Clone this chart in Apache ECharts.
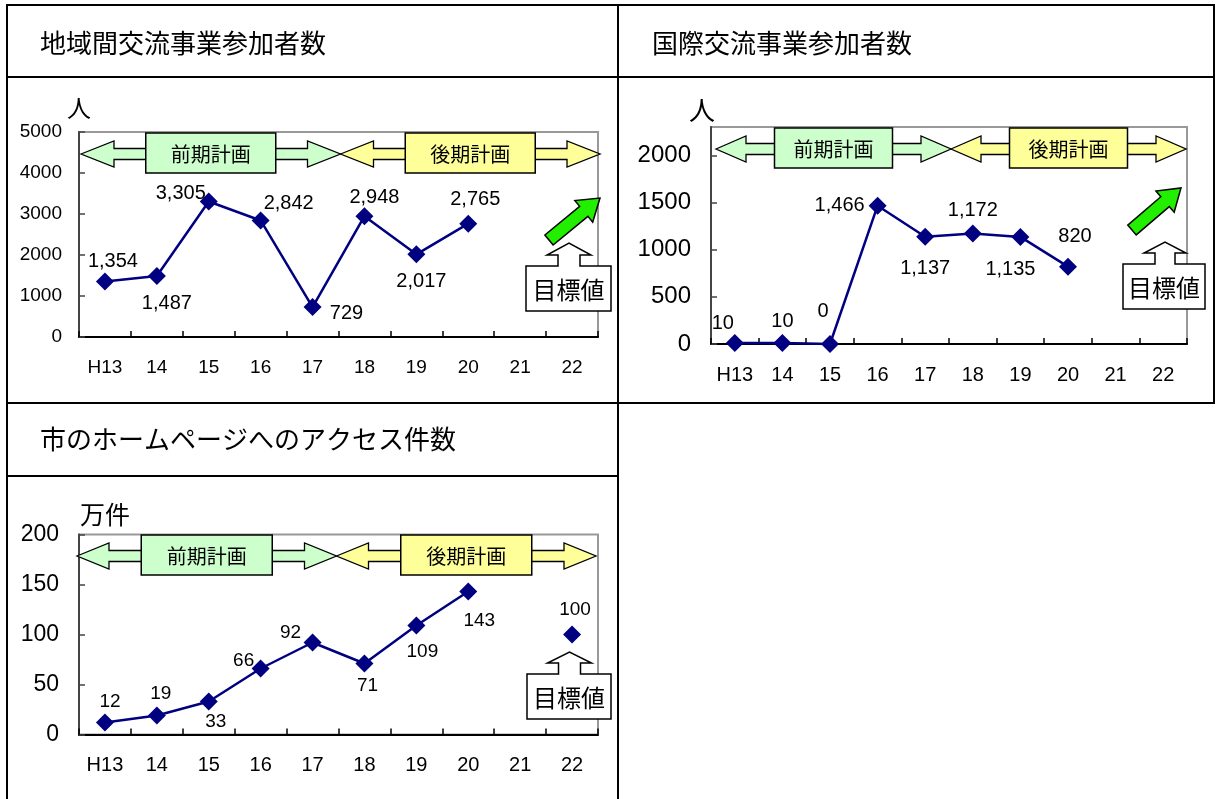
<!DOCTYPE html>
<html><head><meta charset="utf-8">
<script src="https://cdn.jsdelivr.net/npm/echarts@6/dist/echarts.min.js"></script>
<style>html,body{margin:0;padding:0;background:#fff}#c{width:1218px;height:799px}</style>
</head><body><div id="c"></div>
<script>
// ---- data ----
const categories = ['H13','14','15','16','17','18','19','20','21','22'];
const regionalValues = [1354, 1487, 3305, 2842, 729, 2948, 2017, 2765];
const intlValues = [10, 10, 0, 1466, 1137, 1172, 1135, 820];
const accessValues = [12, 19, 33, 66, 92, 71, 109, 143];
const accessTargetCategory = '22';
const accessTargetValue = 100;
const titles = ['地域間交流事業参加者数', '国際交流事業参加者数', '市のホームページへのアクセス件数'];
const units = ['人', '人', '万件'];
const planLabels = ['前期計画', '後期計画'];
const targetLabel = '目標値';
const yAxis1 = {min: 0, max: 5000, interval: 1000};
const yAxis2 = {min: 0, max: 2300, interval: 500, ticks: [0, 500, 1000, 1500, 2000]};
const yAxis3 = {min: 0, max: 200, interval: 50};

// ---- layout (styles / positions) ----
const CJK = '"Noto Sans CJK JP", sans-serif';
const NUM = '"Liberation Sans", Arial, sans-serif';
const NAVY = '#000080';
const off1 = [[8,-20],[10,27],[-28,-8],[28,-17],[34,6],[10,-19],[5,27],[7,-24]];
const off2 = [[-12,-20],[0,-22],[-7,-33],[-38,0],[0,32],[0,-23],[-10,33],[7,-30]];
const off3 = [[5,-21],[4,-22],[7,20],[-17,-8],[-22,-10],[3,22],[6,26],[11,29]];

const fmt = v => String(v).replace(/\B(?=(\d{3})+(?!\d))/g, ',');

const chart = echarts.init(document.getElementById('c'), null, {renderer: 'canvas'});

function xAxisCfg(gi, fs) {
  return {
    type: 'category', gridIndex: gi, data: categories, boundaryGap: true,
    axisLine: {show: true, lineStyle: {color: '#000', width: 2}},
    axisTick: {show: true, inside: true, length: 6, interval: 0, lineStyle: {color: '#000', width: 1.5}},
    axisLabel: {fontSize: fs, fontFamily: NUM, color: '#000', margin: 21, interval: 0},
    splitLine: {show: false}
  };
}
function yAxisCfg(gi, a, fs, margin) {
  const cfg = {
    type: 'value', gridIndex: gi, min: a.min, max: a.max, interval: a.interval,
    axisLine: {show: true, lineStyle: {color: '#444', width: 2}},
    axisTick: {show: true, inside: true, length: 6, lineStyle: {color: '#444', width: 1.5}},
    axisLabel: {fontSize: fs, fontFamily: NUM, color: '#000', margin: margin, formatter: v => String(v)},
    splitLine: {show: false}
  };
  if (a.ticks) {
    cfg.axisLabel.customValues = a.ticks;
    cfg.axisTick.customValues = a.ticks;
  }
  return cfg;
}
function lineSeries(gi, values, offs, fs) {
  return {
    type: 'line', xAxisIndex: gi, yAxisIndex: gi, clip: false,
    symbol: 'diamond', symbolSize: 18,
    lineStyle: {color: NAVY, width: 2.5},
    itemStyle: {color: NAVY},
    label: {show: true, position: 'inside', color: '#000', fontSize: fs, fontFamily: NUM,
      formatter: p => fmt(p.value)},
    data: values.map((v, i) => ({value: v, label: {offset: offs[i]}})),
    z: 5
  };
}

// ---- graphic helpers ----
const els = [];
function line(x1, y1, x2, y2, w) {
  els.push({type: 'line', z: 50, shape: {x1, y1, x2, y2}, style: {stroke: '#000', lineWidth: w || 2}});
}
function text(x, y, t, size, family, align) {
  els.push({type: 'text', z: 60, x, y, style: {text: t, fontSize: size, fontFamily: family, fill: '#000',
    align: align || 'center', verticalAlign: 'middle', textAlign: align || 'center', textVerticalAlign: 'middle'}});
}
function dblArrow(a, b, cy, headL, fill) {
  const hh = 13, sh = 5.5;
  els.push({type: 'polygon', z: 40, shape: {points: [
    [a, cy], [a + headL, cy - hh], [a + headL, cy - sh], [b - headL, cy - sh], [b - headL, cy - hh], [b, cy],
    [b - headL, cy + hh], [b - headL, cy + sh], [a + headL, cy + sh], [a + headL, cy + hh]]},
    style: {fill, stroke: '#000', lineWidth: 1.3}});
}
function band(left, right, top, boxW, headL) {
  const cy = top + 21, mid = (left + right) / 2;
  const halves = [[left, mid, '#ccffcc'], [mid, right, '#ffff99']];
  halves.forEach((h, i) => {
    dblArrow(h[0], h[1], cy, headL, h[2]);
    const cx = (h[0] + h[1]) / 2;
    els.push({type: 'rect', z: 41, shape: {x: cx - boxW / 2, y: top, width: boxW, height: 40},
      style: {fill: h[2], stroke: '#000', lineWidth: 1.5}});
    text(cx, cy, planLabels[i], 20, CJK);
  });
}
function callout(bx1, by1, bx2, by2, tipX, tipY, wingY, wingHalf, shaftHalf) {
  els.push({type: 'polygon', z: 42, shape: {points: [
    [bx1, by1], [tipX - shaftHalf, by1], [tipX - shaftHalf, wingY], [tipX - wingHalf, wingY], [tipX, tipY],
    [tipX + wingHalf, wingY], [tipX + shaftHalf, wingY], [tipX + shaftHalf, by1], [bx2, by1], [bx2, by2], [bx1, by2]]},
    style: {fill: '#fff', stroke: '#000', lineWidth: 1.5}});
  text((bx1 + bx2) / 2, (by1 + by2) / 2 + 1, targetLabel, 24, CJK);
}
function greenArrow(tx0, ty0, tx1, ty1) {
  const dx = tx1 - tx0, dy = ty1 - ty0, L = Math.hypot(dx, dy);
  const ux = dx / L, uy = dy / L, px = -uy, py = ux;
  const sw = 6.5, hw = 14, hl = 21;
  const nx = tx1 - ux * hl, ny = ty1 - uy * hl;
  els.push({type: 'polygon', z: 42, shape: {points: [
    [tx0 + px * sw, ty0 + py * sw], [nx + px * sw, ny + py * sw], [nx + px * hw, ny + py * hw], [tx1, ty1],
    [nx - px * hw, ny - py * hw], [nx - px * sw, ny - py * sw], [tx0 - px * sw, ty0 - py * sw]]},
    style: {fill: '#22ee00', stroke: '#000', lineWidth: 1.5}});
}

// table borders
line(6, 5, 1215, 5);
line(7, 4, 7, 799);
line(618, 4, 618, 799);
line(1214, 4, 1214, 404);
line(6, 77, 1215, 77);
line(6, 403, 1215, 403);
line(6, 476, 619, 476);
// titles
text(40, 43, titles[0], 26, CJK, 'left');
text(652, 43, titles[1], 26, CJK, 'left');
text(40, 439, titles[2], 26, CJK, 'left');
// units
text(79, 108, units[0], 24, CJK);
text(702, 110, units[1], 26, CJK);
text(105, 514, units[2], 25, CJK);
// plan bands
band(81, 600, 133, 130, 33);
band(716, 1186, 128, 118, 30);
band(77, 596, 535, 131, 32);
// target indicators
greenArrow(549, 240, 600, 198);
callout(526, 266, 611, 311, 569, 243, 255, 22, 11);
greenArrow(1132, 230, 1181, 188);
callout(1123, 264, 1205, 309, 1165, 242, 253, 21, 10);
callout(527, 674, 611, 719, 569.5, 652, 663, 22, 11);

chart.setOption({
  backgroundColor: '#fff',
  animation: false,
  grid: [
    {left: 79, top: 132, width: 519, height: 205, show: true, borderColor: '#999', borderWidth: 2, backgroundColor: '#fff'},
    {left: 711, top: 127, width: 476, height: 217, show: true, borderColor: '#999', borderWidth: 2, backgroundColor: '#fff'},
    {left: 79, top: 534.5, width: 519, height: 200, show: true, borderColor: '#999', borderWidth: 2, backgroundColor: '#fff'}
  ],
  xAxis: [xAxisCfg(0, 19), xAxisCfg(1, 20), xAxisCfg(2, 20)],
  yAxis: [yAxisCfg(0, yAxis1, 19, 17), yAxisCfg(1, yAxis2, 24, 20), yAxisCfg(2, yAxis3, 23, 20)],
  series: [
    lineSeries(0, regionalValues, off1, 20),
    lineSeries(1, intlValues, off2, 20),
    lineSeries(2, accessValues, off3, 19),
    {
      type: 'line', xAxisIndex: 2, yAxisIndex: 2, clip: false,
      symbol: 'diamond', symbolSize: 18, lineStyle: {width: 0}, itemStyle: {color: NAVY},
      label: {show: true, position: 'inside', offset: [3, -25], color: '#000', fontSize: 19, fontFamily: NUM,
        formatter: p => fmt(p.value[1])},
      data: [[accessTargetCategory, accessTargetValue]], z: 5
    }
  ],
  graphic: {elements: els}
});
</script></body></html>
